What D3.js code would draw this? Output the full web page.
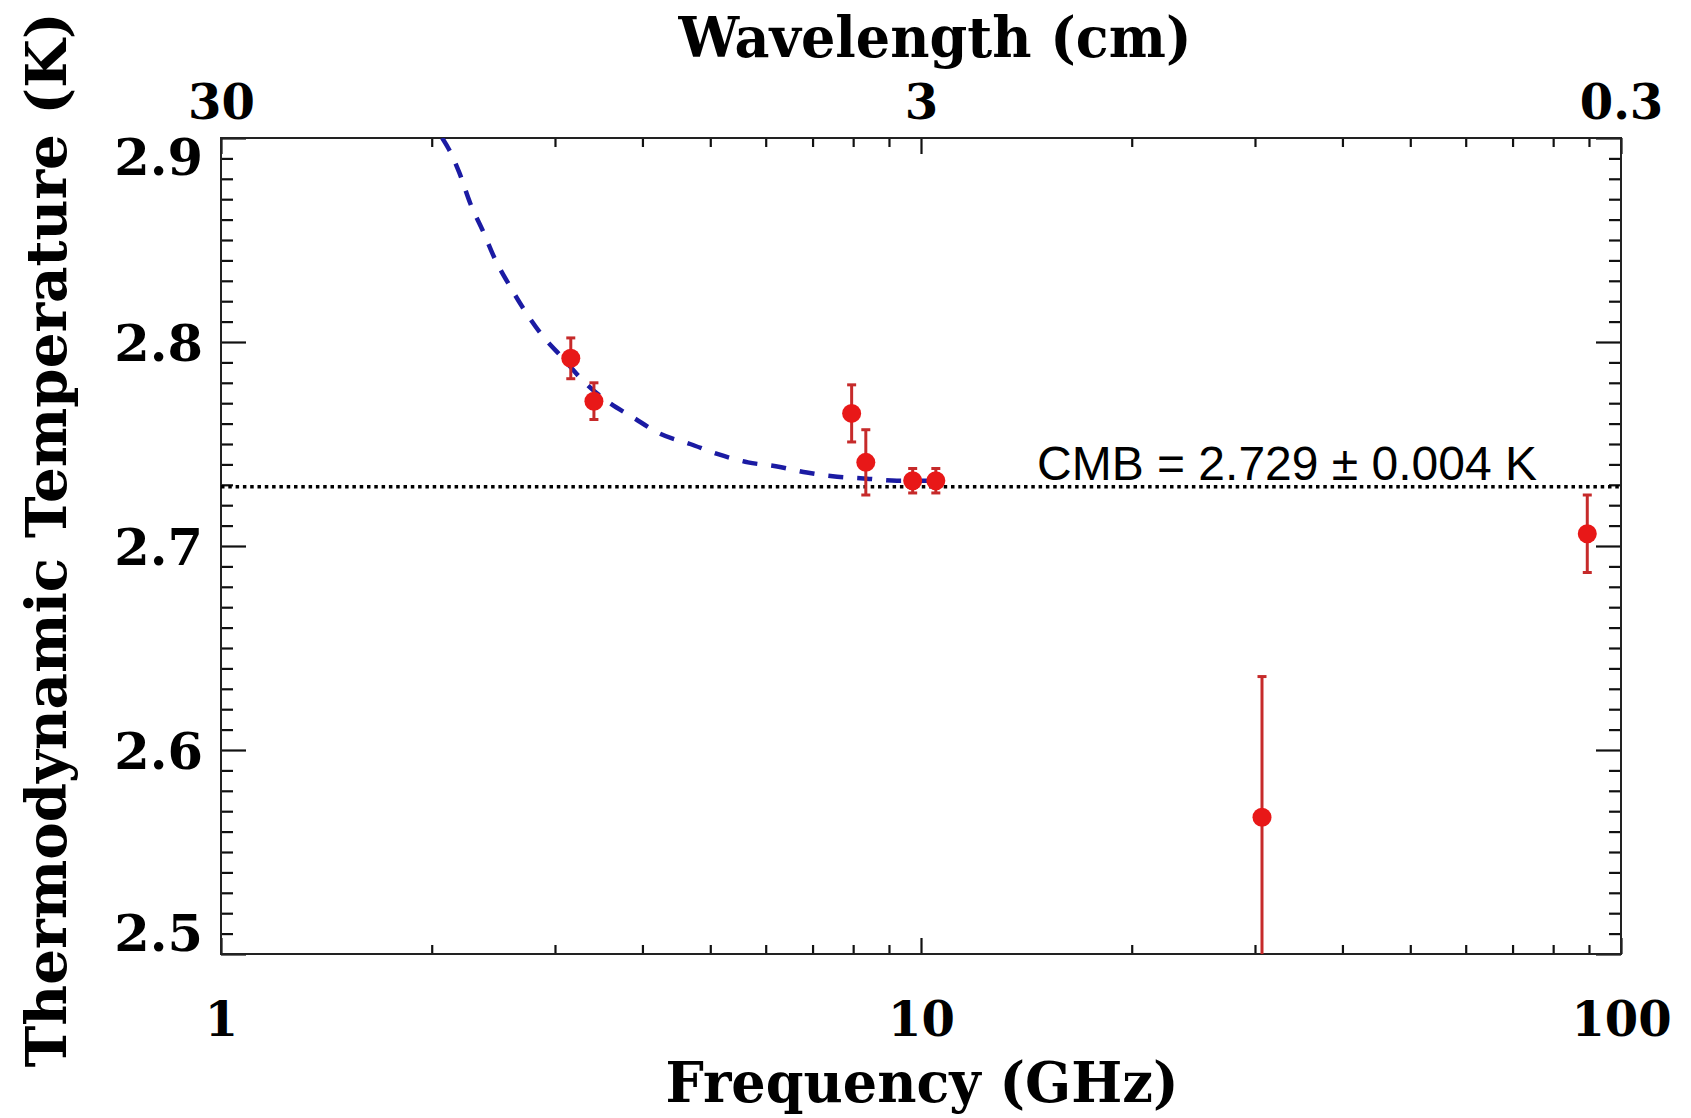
<!DOCTYPE html>
<html>
<head>
<meta charset="utf-8">
<script src="https://cdn.jsdelivr.net/npm/d3@7/dist/d3.min.js"></script>
<style>
  html, body { margin: 0; padding: 0; background: #fff; }
  svg { display: block; }
</style>
</head>
<body>
<script>
// measured points (GHz, K) with 1-sigma errors
const freqGHz = [3.16, 3.41, 7.96, 8.34, 9.73, 10.5, 30.7, 89.5];
const tempK = [2.792, 2.771, 2.765, 2.741, 2.732, 2.732, 2.567, 2.706];
const errK = [0.010, 0.009, 0.014, 0.016, 0.006, 0.006, 0.069, 0.019];

// dashed fit curve
const fitFreq = [2.07, 2.12, 2.19, 2.27, 2.37, 2.46, 2.59, 2.72, 2.88, 3.08, 3.29, 3.56,
                 3.88, 4.24, 4.68, 5.13, 5.66, 6.23, 6.87, 7.59, 8.37, 9.24, 10.5];
const fitTemp = [2.900, 2.894, 2.883, 2.868, 2.854, 2.841, 2.827, 2.815, 2.803, 2.792, 2.781, 2.771,
                 2.763, 2.755, 2.750, 2.745, 2.741, 2.739, 2.736, 2.734, 2.733, 2.732, 2.732];

const cmbTemp = 2.729;
const cmbLabel = 'CMB = 2.729 \u00b1 0.004 K';

// axes
const freqTicks = [1, 10, 100];
const freqTickLabels = ['1', '10', '100'];
const waveTicks = [30, 3, 0.3];
const waveTickLabels = ['30', '3', '0.3'];
const tempTicks = [2.5, 2.6, 2.7, 2.8, 2.9];
const tempTickLabels = ['2.5', '2.6', '2.7', '2.8', '2.9'];

const width = 1691;
const height = 1118;
const margin = { top: 138, right: 70, bottom: 164, left: 221 };
const plotW = width - margin.left - margin.right;
const plotH = height - margin.top - margin.bottom;

const serif = '"DejaVu Serif", serif';

const x = d3.scaleLog().domain([1, 100]).range([0, plotW]);
const xWave = d3.scaleLog().domain([30, 0.3]).range([0, plotW]);
const y = d3.scaleLinear().domain([2.5, 2.9]).range([plotH, 0]);

const minorFreq = [];
[1, 10].forEach((dec) => d3.range(2, 10).forEach((k) => minorFreq.push(dec * k)));
const minorWave = minorFreq.map((f) => 30 / f);
const minorTemp = d3.range(250, 291).map((v) => v / 100)
  .filter((v) => !tempTicks.some((t) => Math.abs(t - v) < 1e-6));

const svg = d3.select('body')
  .append('svg')
  .attr('width', width)
  .attr('height', height);

svg.append('rect')
  .attr('width', width)
  .attr('height', height)
  .attr('fill', '#fff');

const g = svg.append('g')
  .attr('transform', `translate(${margin.left},${margin.top})`);

g.append('clipPath')
  .attr('id', 'plot-clip')
  .append('rect')
  .attr('width', plotW)
  .attr('height', plotH);

const styleAxis = (sel, size) => {
  sel.select('.domain').remove();
  sel.selectAll('line').attr('stroke', '#111').attr('stroke-width', 2.2);
  sel.selectAll('text')
    .attr('fill', '#000')
    .style('font-family', serif)
    .style('font-weight', 'bold')
    .style('font-size', (size || 48) + 'px');
};

// bottom axis: frequency
g.append('g')
  .attr('transform', `translate(0,${plotH})`)
  .call(d3.axisBottom(x).tickValues(minorFreq).tickSizeInner(-9).tickSizeOuter(0).tickFormat(''))
  .call(styleAxis);
g.append('g')
  .attr('transform', `translate(0,${plotH})`)
  .call(d3.axisBottom(x).tickValues(freqTicks).tickSizeInner(-16).tickSizeOuter(0)
    .tickPadding(48).tickFormat((d, i) => freqTickLabels[i]))
  .call(styleAxis);

// top axis: wavelength
g.append('g')
  .call(d3.axisTop(xWave).tickValues(minorWave).tickSizeInner(-9).tickSizeOuter(0).tickFormat(''))
  .call(styleAxis);
g.append('g')
  .call(d3.axisTop(xWave).tickValues(waveTicks).tickSizeInner(-16).tickSizeOuter(0)
    .tickPadding(19).tickFormat((d, i) => waveTickLabels[i]))
  .call(styleAxis);

// left axis: temperature
g.append('g')
  .call(d3.axisLeft(y).tickValues(minorTemp).tickSizeInner(-12).tickSizeOuter(0).tickFormat(''))
  .call(styleAxis);
const yMajor = g.append('g')
  .call(d3.axisLeft(y).tickValues(tempTicks).tickSizeInner(-25).tickSizeOuter(0)
    .tickPadding(18).tickFormat((d, i) => tempTickLabels[i]))
  .call(styleAxis, 51);
// end labels are pulled inside the frame, like the original
yMajor.selectAll('.tick text')
  .attr('dy', (d) => d === 2.9 ? '0.72em' : d === 2.5 ? '-0.06em' : '0.36em');

// right axis: ticks only
g.append('g')
  .attr('transform', `translate(${plotW},0)`)
  .call(d3.axisRight(y).tickValues(minorTemp).tickSizeInner(-12).tickSizeOuter(0).tickFormat(''))
  .call(styleAxis);
g.append('g')
  .attr('transform', `translate(${plotW},0)`)
  .call(d3.axisRight(y).tickValues(tempTicks).tickSizeInner(-25).tickSizeOuter(0).tickFormat(''))
  .call(styleAxis);

// frame
g.append('rect')
  .attr('width', plotW)
  .attr('height', plotH)
  .attr('fill', 'none')
  .attr('stroke', '#222')
  .attr('stroke-width', 2);

const plot = g.append('g').attr('clip-path', 'url(#plot-clip)');

// CMB level
plot.append('line')
  .attr('x1', 0)
  .attr('x2', plotW)
  .attr('y1', y(cmbTemp))
  .attr('y2', y(cmbTemp))
  .attr('stroke', '#000')
  .attr('stroke-width', 3.5)
  .attr('stroke-dasharray', '3.5,3.8');

// fit curve
const fitData = fitFreq.map((f, i) => ({ f: f, t: fitTemp[i] }));
plot.append('path')
  .datum(fitData)
  .attr('fill', 'none')
  .attr('stroke', '#1b1ba3')
  .attr('stroke-width', 4.5)
  .attr('stroke-dasharray', '15,14')
  .attr('d', d3.line()
    .x((d) => x(d.f))
    .y((d) => y(d.t))
    .curve(d3.curveMonotoneX));

// data with error bars
const points = freqGHz.map((f, i) => ({ f: f, t: tempK[i], e: errK[i] }));
const capW = 4.5;

const bars = plot.selectAll('.err')
  .data(points)
  .enter()
  .append('g')
  .classed('err', true)
  .attr('stroke', '#c62a2a')
  .attr('stroke-width', 3);

bars.append('line')
  .attr('x1', (d) => x(d.f))
  .attr('x2', (d) => x(d.f))
  .attr('y1', (d) => y(d.t - d.e))
  .attr('y2', (d) => y(d.t + d.e));
bars.append('line')
  .attr('x1', (d) => x(d.f) - capW)
  .attr('x2', (d) => x(d.f) + capW)
  .attr('y1', (d) => y(d.t + d.e))
  .attr('y2', (d) => y(d.t + d.e));
bars.append('line')
  .attr('x1', (d) => x(d.f) - capW)
  .attr('x2', (d) => x(d.f) + capW)
  .attr('y1', (d) => y(d.t - d.e))
  .attr('y2', (d) => y(d.t - d.e));

plot.selectAll('.dot')
  .data(points)
  .enter()
  .append('circle')
  .classed('dot', true)
  .attr('cx', (d) => x(d.f))
  .attr('cy', (d) => y(d.t))
  .attr('r', 9.5)
  .attr('fill', '#e81818');

// annotation
g.append('text')
  .attr('x', 1037 - margin.left)
  .attr('y', y(cmbTemp) - 7)
  .style('font-family', '"Liberation Sans", Arial, sans-serif')
  .style('font-size', '48px')
  .attr('fill', '#000')
  .text(cmbLabel);

// axis titles
const title = (sel) => sel
  .attr('text-anchor', 'middle')
  .attr('fill', '#000')
  .attr('lengthAdjust', 'spacingAndGlyphs')
  .style('font-family', serif)
  .style('font-weight', 'bold')
  .style('font-size', '56px');

svg.append('text')
  .attr('x', 922)
  .attr('y', 1102)
  .attr('textLength', 513)
  .call(title)
  .text('Frequency (GHz)');

svg.append('text')
  .attr('x', 935)
  .attr('y', 57)
  .attr('textLength', 513)
  .call(title)
  .text('Wavelength (cm)');

svg.append('text')
  .attr('transform', 'translate(66,540) rotate(-90)')
  .attr('textLength', 1055)
  .call(title)
  .text('Thermodynamic Temperature (K)');
</script>
</body>
</html>
